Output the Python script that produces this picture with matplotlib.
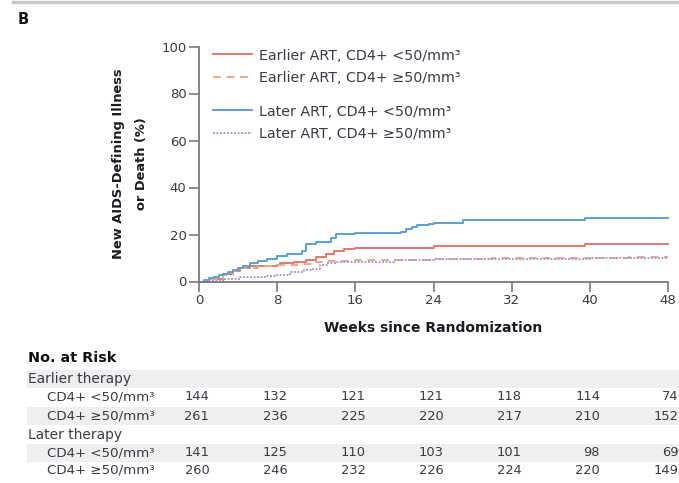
import matplotlib
matplotlib.use("Agg")
import matplotlib.pyplot as plt
from matplotlib.lines import Line2D
from matplotlib.patches import Rectangle
from matplotlib.transforms import blended_transform_factory

plt.rcParams['font.family'] = ['DejaVu Sans']

# cumulative incidence curves (weeks, %)
wk_early_lo = [0, 1, 2.5, 3.5, 4.2, 5.2, 6.3, 8, 8.3, 9.7, 11, 12, 13, 13.8, 14.8, 16, 24, 39.5, 48]
pct_early_lo = [0, 1.1, 3.0, 4.5, 5.9, 6.4, 6.7, 7.2, 7.9, 8.3, 9.0, 10.5, 11.9, 13.0, 13.9, 14.3, 15.1, 16.0, 16.0]

wk_early_hi = [0, 1, 2.5, 3.5, 4.2, 6, 8, 10, 12, 13, 14, 16, 20, 24, 30, 38, 44, 48]
pct_early_hi = [0, 1.0, 2.8, 4.3, 5.8, 6.4, 7.0, 7.6, 8.1, 8.6, 8.9, 9.0, 9.3, 9.6, 9.9, 10.1, 10.5, 10.5]

wk_late_lo = [0, 0.5, 1, 1.5, 2, 2.5, 3, 3.5, 4, 4.5, 5.2, 6, 7, 8, 9, 10.5, 11, 12, 13.5, 14, 16,
              20.7, 21.2, 21.8, 22.3, 23.5, 24, 27, 39.5, 48]
pct_late_lo = [0, 0.7, 1.4, 2.1, 2.8, 3.3, 4.2, 5.0, 5.8, 6.6, 7.9, 8.6, 9.6, 10.7, 11.8, 13.0, 15.8, 16.8,
               18.4, 20.1, 20.6, 21.0, 22.2, 23.4, 24.2, 24.5, 25.0, 26.0, 26.9, 26.9]

wk_late_hi = [0, 1, 2.5, 4.2, 7, 8, 9.3, 10.7, 11.7, 12.4, 13.1, 14.1, 16, 20, 24, 32, 40, 48]
pct_late_hi = [0, 0.4, 1.1, 1.9, 2.3, 2.9, 4.0, 4.7, 5.4, 6.9, 7.9, 8.3, 8.3, 9.0, 9.5, 9.7, 9.9, 10.0]

# number at risk table
risk_weeks = [0, 8, 16, 24, 32, 40, 48]
risk_early_lo = [144, 132, 121, 121, 118, 114, 74]
risk_early_hi = [261, 236, 225, 220, 217, 210, 152]
risk_late_lo = [141, 125, 110, 103, 101, 98, 69]
risk_late_hi = [260, 246, 232, 226, 224, 220, 149]

lbl_lo = 'CD4+ <50/mm\u00b3'
lbl_hi = 'CD4+ \u226550/mm\u00b3'

c_red = '#e8766c'
c_orange = '#f2a77c'
c_blue = '#55a3d4'
c_purple = '#a99bd2'
txt = '#3a3a48'
axc = '#7a7a7a'

W, H = 679, 483
fig = plt.figure(figsize=(W / 100, H / 100), dpi=100)


def fx(px):
    return px / W


def fy(py):
    return 1 - py / H


ax = fig.add_axes([fx(199), fy(281.5), fx(668) - fx(199), fy(46.5) - fy(281.5)])

ax.step(wk_early_lo, pct_early_lo, where='post', color=c_red, lw=1.4, clip_on=False)
ax.step(wk_early_hi, pct_early_hi, where='post', color=c_orange, lw=1.4, ls=(0, (4, 3)), clip_on=False)
ax.step(wk_late_lo, pct_late_lo, where='post', color=c_blue, lw=1.4, clip_on=False)
ax.step(wk_late_hi, pct_late_hi, where='post', color=c_purple, lw=1.4, ls=(0, (1, 0.8)), clip_on=False)

ax.set_xlim(0, 48)
ax.set_ylim(0, 100)
ax.set_xticks(risk_weeks)
ax.set_yticks([0, 20, 40, 60, 80, 100])
for s in ['top', 'right']:
    ax.spines[s].set_visible(False)
for s in ['left', 'bottom']:
    ax.spines[s].set_color(axc)
    ax.spines[s].set_linewidth(1.3)
ax.tick_params(length=7, width=1.2, color=axc, labelcolor=txt, labelsize=9.5, pad=2)
ax.set_xlabel('Weeks since Randomization', fontsize=10, fontweight='bold', color='#1a1a22', labelpad=10)
ax.set_ylabel('New AIDS-Defining Illness\nor Death (%)', fontsize=9.4, fontweight='bold',
              color='#1a1a22', linespacing=2.0)
ax.yaxis.set_label_coords(-0.108, 0.5)

# legends (two groups)
h1 = [Line2D([], [], color=c_red, lw=1.4),
      Line2D([], [], color=c_orange, lw=1.4, ls=(0, (4, 3)))]
h2 = [Line2D([], [], color=c_blue, lw=1.4),
      Line2D([], [], color=c_purple, lw=1.4, ls=(0, (1, 0.8)))]
common = dict(loc='upper left', frameon=False, fontsize=10.3, handlelength=2.7, handletextpad=0.55,
              labelspacing=0.56, borderpad=0, borderaxespad=0, bbox_transform=fig.transFigure,
              labelcolor=txt)
leg1 = ax.legend(h1, ['Earlier ART, ' + lbl_lo, 'Earlier ART, ' + lbl_hi],
                 bbox_to_anchor=(fx(213), fy(48.5)), **common)
ax.add_artist(leg1)
ax.legend(h2, ['Later ART, ' + lbl_lo, 'Later ART, ' + lbl_hi],
          bbox_to_anchor=(fx(213), fy(104.5)), **common)

# panel letter and top rule
fig.text(fx(18), fy(19), 'B', fontsize=10.5, fontweight='bold', va='center', color='#111111')
fig.add_artist(Line2D([fx(13), 1], [fy(1.5), fy(1.5)], color='#c8c8c8', lw=2.5))

# number at risk table
fig.text(fx(28), fy(358), 'No. at Risk', fontsize=10.4, fontweight='bold', va='center', color='#111111')
rows = [
    ('Earlier therapy', None, 379, True),
    (lbl_lo, risk_early_lo, 397, False),
    (lbl_hi, risk_early_hi, 416, True),
    ('Later therapy', None, 435, False),
    (lbl_lo, risk_late_lo, 452.5, True),
    (lbl_hi, risk_late_hi, 470, False),
]
tr = blended_transform_factory(ax.transData, fig.transFigure)
for label, vals, py, shade in rows:
    if shade:
        fig.patches.append(Rectangle((fx(27), fy(py + 9)), 1 - fx(27), 18 / H,
                                     transform=fig.transFigure, facecolor='#efefef',
                                     edgecolor='none', zorder=0))
    if vals is None:
        fig.text(fx(28), fy(py), label, fontsize=9.9, va='center', color=txt)
    else:
        fig.text(fx(47), fy(py), label, fontsize=9.6, va='center', color=txt)
        for w, v in zip(risk_weeks, vals):
            fig.text(w + 1.05, fy(py), str(v), transform=tr, fontsize=9.4, va='center',
                     ha='right', color=txt)

fig.savefig('out.png', dpi=100)
